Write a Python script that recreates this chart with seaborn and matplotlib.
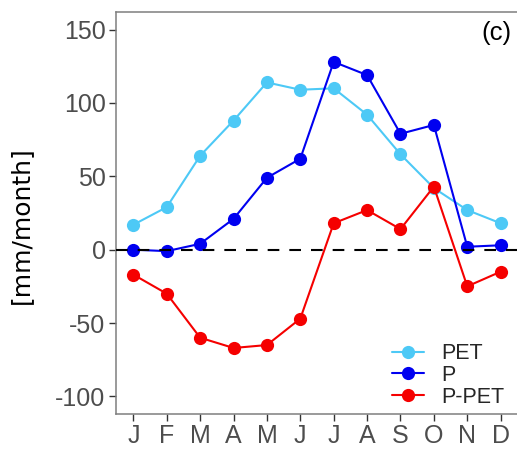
import matplotlib
matplotlib.use("Agg")
import matplotlib.pyplot as plt
import seaborn as sns
import pandas as pd

# Monthly water balance
months = ["J", "F", "M", "A", "M", "J", "J", "A", "S", "O", "N", "D"]
pet = [17, 29, 64, 88, 114, 109, 110, 92, 65, 42, 27, 18]
p = [0, -1, 4, 21, 49, 62, 128, 119, 79, 85, 2, 3]
p_minus_pet = [-17, -30, -60, -67, -65, -47, 18, 27, 14, 43, -25, -15]

series_names = ["PET", "P", "P-PET"]
series_colors = ["#4DC9F6", "#0000F0", "#F50000"]

month_pos = list(range(1, len(months) + 1))
df = pd.concat([
    pd.DataFrame({"month": month_pos, "value": vals, "series": name})
    for name, vals in zip(series_names, [pet, p, p_minus_pet])
])

sns.set_style("white")
plt.rcParams["font.family"] = ["Liberation Sans", "DejaVu Sans"]

fig = plt.figure(figsize=(5.17, 4.51), dpi=100)
ax = fig.add_axes([116 / 517, (451 - 414) / 451, (518 - 116) / 517, (414 - 12) / 451])

sns.lineplot(
    data=df, x="month", y="value", hue="series",
    hue_order=series_names, palette=dict(zip(series_names, series_colors)),
    marker="o", markersize=9.5, markeredgewidth=0, linewidth=1.5,
    ax=ax, legend=True, zorder=2,
)

# zero reference line
ax.axhline(0, color="black", linewidth=1.5, linestyle=(0, (5.6, 4.8)), zorder=3)

ax.set_xlim(0.48, 12.52)
ax.set_ylim(-112, 162)
ax.set_xticks(month_pos)
ax.set_xticklabels(months)
ax.set_yticks([-100, -50, 0, 50, 100, 150])
ax.set_yticklabels(["-100", "-50", "0", "50", "100", "150"])

ax.set_xlabel("")
ax.set_ylabel("[mm/month]", fontsize=18, color="black", family="DejaVu Sans")
ax.yaxis.set_label_coords(-0.206, 0.471)

ax.tick_params(axis="both", which="both", direction="out", length=5, width=1,
               color="#333333", labelcolor="#4D4D4D", labelsize=18, pad=2.5,
               left=True, bottom=True)

for side in ["left", "top", "bottom"]:
    ax.spines[side].set_visible(True)
    ax.spines[side].set_color("#7F7F7F")
    ax.spines[side].set_linewidth(1.1)
ax.spines["right"].set_visible(False)

ax.text(0.983, 0.948, "(c)", transform=ax.transAxes, fontsize=18.5, color="black",
        ha="right", va="center")

leg = ax.legend(title=None, frameon=False, fontsize=15.5, loc="upper left",
                bbox_to_anchor=(0.687, 0.176), handlelength=1.47, handletextpad=0.82,
                labelspacing=0.03, borderaxespad=0, borderpad=0)

fig.savefig("out.png", dpi=100)
